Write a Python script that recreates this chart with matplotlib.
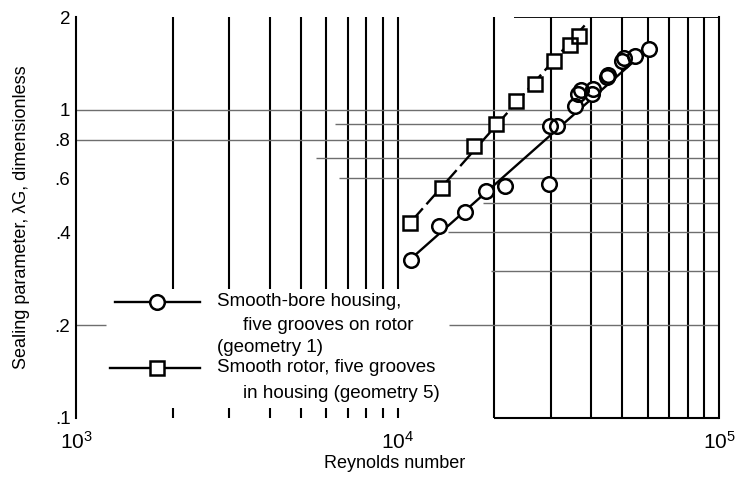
import matplotlib
matplotlib.use("Agg")
import matplotlib.pyplot as plt
from matplotlib import font_manager
import numpy as np

# ---- data -------------------------------------------------------------
# Geometry 1: smooth-bore housing, five grooves on rotor
re_geom1 = [1.10e4, 1.35e4, 1.62e4, 1.89e4, 2.16e4, 2.95e4, 2.98e4, 3.13e4,
            3.57e4, 3.64e4, 3.72e4, 4.02e4, 4.05e4, 4.48e4, 4.51e4, 4.99e4,
            5.06e4, 5.48e4, 6.04e4]
lam_geom1 = [0.326, 0.421, 0.467, 0.547, 0.566, 0.575, 0.887, 0.887,
             1.03, 1.127, 1.16, 1.127, 1.17, 1.28, 1.30, 1.44,
             1.47, 1.50, 1.58]

# Geometry 5: smooth rotor, five grooves in housing
re_geom5 = [1.09e4, 1.38e4, 1.73e4, 2.02e4, 2.34e4, 2.68e4, 3.07e4, 3.43e4, 3.66e4]
lam_geom5 = [0.430, 0.558, 0.763, 0.902, 1.07, 1.21, 1.44, 1.62, 1.74]

# Faired curves through each data set (end points)
fit1_re = [1.07e4, 6.18e4]
fit1_lam = [0.320, 1.616]
fit5_re = [1.09e4, 3.82e4]
fit5_lam = [0.428, 1.878]

y_ticks = [0.1, 0.2, 0.4, 0.6, 0.8, 1.0, 2.0]
y_tick_labels = [".1", ".2", ".4", ".6", ".8", "1", "2"]
x_ticks = [1e3, 1e4, 1e5]
x_tick_labels = [r"$10^3$", r"$10^4$", r"$10^5$"]

legend_geom1 = ["Smooth-bore housing,", "five grooves on rotor", "(geometry 1)"]
legend_geom5 = ["Smooth rotor, five grooves", "in housing (geometry 5)"]

# ---- fonts ------------------------------------------------------------
available = {f.name for f in font_manager.fontManager.ttflist}
main_font = "Liberation Sans" if "Liberation Sans" in available else "DejaVu Sans"
plt.rcParams["font.family"] = [main_font, "DejaVu Sans"]
plt.rcParams["mathtext.fontset"] = "custom"
plt.rcParams["mathtext.rm"] = main_font
plt.rcParams["mathtext.it"] = main_font
plt.rcParams["mathtext.default"] = "rm"

FS = 13

# ---- figure -----------------------------------------------------------
W, H = 739, 478
fig = plt.figure(figsize=(W / 100, H / 100), dpi=100)
L, R, T, B = 76, 719, 17, 418
ax = fig.add_axes([L / W, 1 - B / H, (R - L) / W, (B - T) / H])
ax.set_xscale("log")
ax.set_yscale("log")
ax.set_xlim(1e3, 1e5)
ax.set_ylim(0.1, 2.0)

for side in ("top", "bottom"):
    ax.spines[side].set_visible(False)
for side in ("left", "right"):
    ax.spines[side].set_linewidth(1.5)
    ax.spines[side].set_color("black")

ax.set_yticks(y_ticks)
ax.set_yticklabels(y_tick_labels)
ax.set_xticks(x_ticks)
ax.set_xticklabels(x_tick_labels)
ax.minorticks_off()
ax.tick_params(axis="y", length=0, pad=4, labelsize=13.5)
ax.tick_params(axis="x", length=0, pad=9, labelsize=15)

# ---- chart paper ------------------------------------------------------
vcol = "black"
hcol = "#6e6e6e"
# vertical rulings of the first decade stop above the key
for v in np.arange(2, 11) * 1e3:
    ax.vlines(v, 0.262, 2.0, color=vcol, lw=1.5, zorder=1)
    ax.vlines(v, 0.1, 0.1078, color=vcol, lw=1.5, zorder=1)
for v in np.arange(2, 10) * 1e4:
    ax.vlines(v, 0.1, 2.0, color=vcol, lw=1.5, zorder=1)

# horizontal rulings (value, start, end)
h_rules = [
    (1.0, 1e3, 1e5),
    (0.9, 6.4e3, 1e5),
    (0.8, 1e3, 1e5),
    (0.7, 5.56e3, 1e5),
    (0.6, 6.6e3, 1e5),
    (0.5, 1.84e4, 1e5),
    (0.4, 1.44e4, 1e5),
    (0.3, 1.96e4, 1e5),
    (0.2, 1e3, 1.24e3),
    (0.2, 1.45e4, 1e5),
]
for yv, x0, x1 in h_rules:
    ax.hlines(yv, x0, x1, color=hcol, lw=1.0, zorder=1)
# partial frame at top and bottom
ax.hlines(2.0, 2.3e4, 1e5, color=vcol, lw=1.3, zorder=1)
ax.hlines(0.1, 2e4, 1e5, color=vcol, lw=1.5, zorder=1, clip_on=False)

# ---- data -------------------------------------------------------------
MS = 10.5
MEW = 1.8
ax.plot(fit1_re, fit1_lam, color="black", lw=1.7, zorder=3, solid_capstyle="butt")
ax.plot(fit5_re, fit5_lam, color="black", lw=1.7, zorder=3, dashes=(8.5, 2.3))

for xs, ys, mk, ms in ((re_geom1, lam_geom1, "o", MS), (re_geom5, lam_geom5, "s", MS - 0.5)):
    ax.plot(xs, ys, ls="none", marker=mk, ms=ms, mfc="white", mec="white",
            mew=0, zorder=4)
    ax.plot(xs, ys, ls="none", marker=mk, ms=ms, mfc="none", mec="black",
            mew=MEW, zorder=5)

# ---- key --------------------------------------------------------------
def fx(px):
    return (px - L) / (R - L)


def fy(py):
    return (B - py) / (B - T)


tr = ax.transAxes
ax.plot([fx(115), fx(200)], [fy(302), fy(302)], transform=tr, color="black",
        lw=1.7, clip_on=False, zorder=3)
ax.plot([fx(157)], [fy(302)], transform=tr, marker="o", ms=MS, mfc="white",
        mec="black", mew=MEW, clip_on=False, zorder=5)
ax.plot([fx(110), fx(200)], [fy(368), fy(368)], transform=tr, color="black",
        lw=1.7, clip_on=False, zorder=3)
ax.plot([fx(157)], [fy(368)], transform=tr, marker="s", ms=MS - 0.5, mfc="white",
        mec="black", mew=MEW, clip_on=False, zorder=5)

key_lines = [
    (legend_geom1[0], 217, 302),
    (legend_geom1[1], 243, 325),
    (legend_geom1[2], 217, 347),
    (legend_geom5[0], 217, 368),
    (legend_geom5[1], 243, 393),
]
for txt, px, py in key_lines:
    ax.text(fx(px), fy(py), txt, transform=tr, fontsize=13.5, ha="left",
            va="center", zorder=6,
            bbox=dict(facecolor="white", edgecolor="none", pad=0.5))

# ---- axis titles --------------------------------------------------------
fig.text(395 / W, 1 - 463 / H, "Reynolds number", fontsize=FS, ha="center",
         va="center")
fig.text(22 / W, 1 - 217 / H, "Sealing parameter, \u03bbG, dimensionless",
         fontsize=FS, rotation=90, ha="center", va="center")

fig.savefig("out.png", dpi=100)
